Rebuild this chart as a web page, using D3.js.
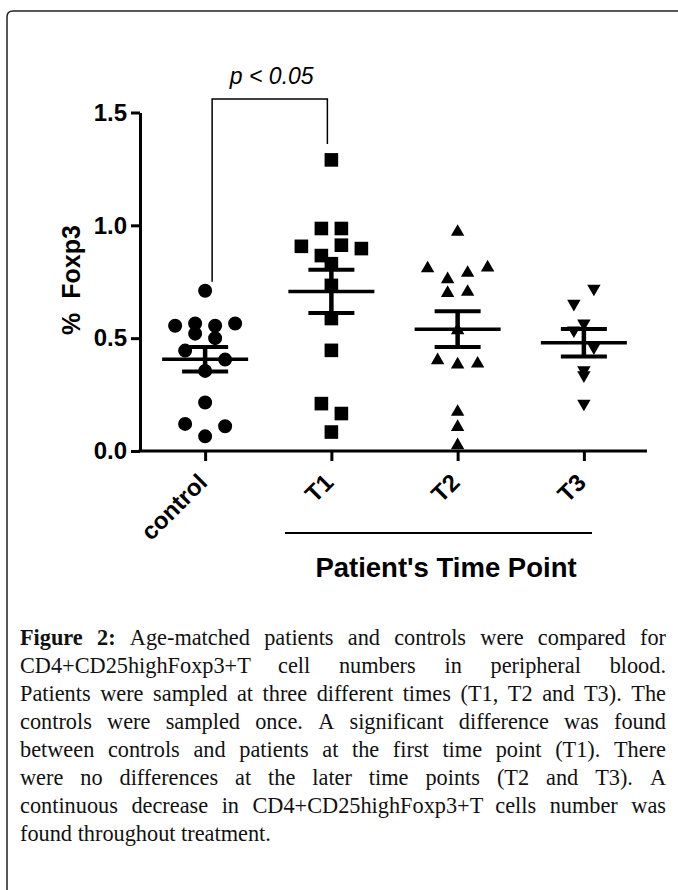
<!DOCTYPE html>
<html>
<head>
<meta charset="utf-8">
<script src="https://cdn.jsdelivr.net/npm/d3@7"></script>
<style>
html,body{margin:0;padding:0;background:#fff;}
svg{display:block;}
</style>
</head>
<body>
<script>
var WIDTH = 678, HEIGHT = 890;

// data (% Foxp3)
var groups = ["control", "T1", "T2", "T3"];
var controlValues = [0.71, 0.555, 0.565, 0.555, 0.565, 0.52, 0.50, 0.445, 0.355, 0.405, 0.215, 0.12, 0.065, 0.11];
var t1Values = [1.29, 0.986, 0.986, 0.907, 0.866, 0.912, 0.897, 0.83, 0.734, 0.587, 0.446, 0.21, 0.166, 0.084];
var t2Values = [0.971, 0.809, 0.761, 0.789, 0.813, 0.70, 0.705, 0.535, 0.402, 0.383, 0.387, 0.173, 0.106, 0.025];
var t3Values = [0.653, 0.72, 0.565, 0.535, 0.46, 0.358, 0.336, 0.21];
var yTicks = [0, 0.5, 1.0, 1.5];
var yLabel = "%  Foxp3";
var xTitle = "Patient's Time Point";
var pLabel = "p < 0.05";
var captionLines = [
	"Figure 2: Age-matched patients and controls were compared for",
	"CD4+CD25highFoxp3+T cell numbers in peripheral blood.",
	"Patients were sampled at three different times (T1, T2 and T3). The",
	"controls were sampled once. A significant difference was found",
	"between controls and patients at the first time point (T1). There",
	"were no differences at the later time points (T2 and T3). A",
	"continuous decrease in CD4+CD25highFoxp3+T cells number was",
	"found throughout treatment."
];

var seriesValues = [controlValues, t1Values, t2Values, t3Values];
var FONT = "'Liberation Sans', Arial, sans-serif";
var COL = 20;

var svg = d3.select("body").append("svg")
		.attr("width", WIDTH)
		.attr("height", HEIGHT);

// frame
svg.append("path")
	.attr("d", "M7," + HEIGHT + "V17Q7,11 13,11H" + WIDTH)
	.attr("fill", "none")
	.attr("stroke", "#222")
	.attr("stroke-width", 1.5);

var yScale = d3.scaleLinear().domain([0, 1.5]).range([451, 112.5]);
var xScale = d3.scalePoint().domain(groups).range([142, 647]).padding(0.5);

// y axis
var yAxisG = svg.append("g")
	.attr("transform", "translate(140,0)")
	.call(d3.axisLeft(yScale).tickValues(yTicks).tickFormat(d3.format(".1f"))
		.tickSize(9).tickPadding(4).tickSizeOuter(0));

// x axis
var xAxisG = svg.append("g")
	.attr("transform", "translate(0,451)")
	.call(d3.axisBottom(xScale).tickSize(10).tickSizeOuter(0));
xAxisG.select(".domain").attr("d", "M138.5,0H647");

svg.selectAll(".domain, .tick line")
	.attr("stroke", "#000")
	.attr("stroke-width", 3);
svg.selectAll(".tick text")
	.attr("fill", "#000")
	.attr("font-family", FONT)
	.attr("font-weight", "bold")
	.attr("font-size", 24);
xAxisG.selectAll(".tick text")
	.attr("x", 0).attr("y", 0).attr("dy", 0)
	.attr("text-anchor", "end")
	.attr("transform", "translate(3,33) rotate(-45)");

// y label
svg.append("text")
	.attr("transform", "translate(80,280) rotate(-90)")
	.attr("text-anchor", "middle")
	.attr("font-family", FONT)
	.attr("font-weight", "bold")
	.attr("font-size", 25)
	.text(yLabel.replace(/ /g, "\u00a0"));

// x title with line above
svg.append("line")
	.attr("x1", 285).attr("x2", 592)
	.attr("y1", 533).attr("y2", 533)
	.attr("stroke", "#000").attr("stroke-width", 2);
svg.append("text")
	.attr("x", 446).attr("y", 577)
	.attr("text-anchor", "middle")
	.attr("font-family", FONT)
	.attr("font-weight", "bold")
	.attr("font-size", 27.5)
	.text(xTitle);

// symbols
var symbols = [
	d3.symbol(d3.symbolCircle, 154),
	d3.symbol(d3.symbolSquare, 185),
	d3.symbol(d3.symbolTriangle, 78),
	d3.symbol(d3.symbolTriangle, 78)
];

// rows of points binned by value, centred on the category
var swarm = function(values){
	var pts = values.map(function(v, i){ return {v: v, i: i}; });
	var rows = d3.group(pts, function(d){ return Math.round(d.v / 0.1); });
	rows.forEach(function(row){
		row.forEach(function(d, k){ d.dx = (k - (row.length - 1) / 2) * COL; });
	});
	return pts;
};

var plot = svg.append("g");
groups.forEach(function(name, gi){
	var vals = seriesValues[gi];
	var cx = xScale(name);
	var g = plot.append("g");
	g.selectAll("path").data(swarm(vals))
		.enter()
		.append("path")
		.attr("d", symbols[gi])
		.attr("fill", "#000")
		.attr("transform", function(d){
			return "translate(" + (cx + d.dx) + "," + yScale(d.v) + ")" + (gi == 3 ? " rotate(180)" : "");
		});

	var mean = d3.mean(vals);
	var sem = d3.deviation(vals) / Math.sqrt(vals.length);
	g.append("line")
		.attr("x1", cx - 43).attr("x2", cx + 43)
		.attr("y1", yScale(mean)).attr("y2", yScale(mean))
		.attr("stroke", "#000").attr("stroke-width", 3.5);
	g.append("line")
		.attr("x1", cx).attr("x2", cx)
		.attr("y1", yScale(mean - sem)).attr("y2", yScale(mean + sem))
		.attr("stroke", "#000").attr("stroke-width", 4.5);
	[mean - sem, mean + sem].forEach(function(v){
		g.append("line")
			.attr("x1", cx - 23).attr("x2", cx + 23)
			.attr("y1", yScale(v)).attr("y2", yScale(v))
			.attr("stroke", "#000").attr("stroke-width", 4);
	});
});

// significance bracket
var xl = xScale("control") + 7, xr = xScale("T1") - 4;
svg.append("path")
	.attr("d", "M" + xl + "," + (yScale(d3.max(controlValues)) - 9) + "V99H" + xr + "V" + (yScale(d3.max(t1Values)) - 16))
	.attr("fill", "none")
	.attr("stroke", "#000")
	.attr("stroke-width", 1.5);
svg.append("text")
	.attr("x", (xl + xr) / 2 + 2).attr("y", 84)
	.attr("text-anchor", "middle")
	.attr("font-family", FONT)
	.attr("font-style", "italic")
	.attr("font-size", 23)
	.text(pLabel);

// caption, justified line by line
var capG = svg.append("g")
	.attr("font-family", "'Liberation Serif', 'Times New Roman', serif")
	.attr("font-size", 22.3)
	.attr("fill", "#111");
var CAP_X = 20, CAP_W = 646;
captionLines.forEach(function(line, li){
	var words = line.split(" ");
	var t = capG.append("text").attr("y", 645 + li * 28);
	var spans = words.map(function(w, i){
		return t.append("tspan").text(w)
			.attr("font-weight", (li == 0 && i < 2) ? "bold" : null);
	});
	var widths = spans.map(function(s){ return s.node().getComputedTextLength(); });
	var last = li == captionLines.length - 1;
	var gap = last ? 5.6 : (CAP_W - d3.sum(widths)) / (words.length - 1);
	var x = CAP_X;
	spans.forEach(function(s, i){
		s.attr("x", x);
		x += widths[i] + gap;
	});
});
</script>
</body>
</html>
